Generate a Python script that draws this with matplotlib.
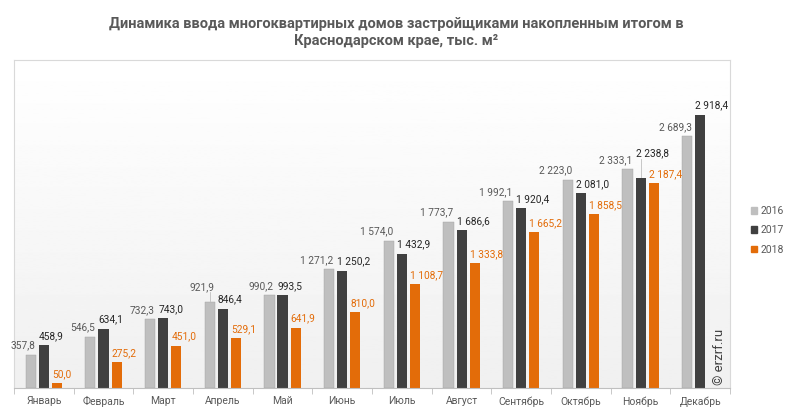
import matplotlib.pyplot as plt
import numpy as np

months = ['Январь', 'Февраль', 'Март', 'Апрель', 'Май', 'Июнь', 'Июль',
          'Август', 'Сентябрь', 'Октябрь', 'Ноябрь', 'Декабрь']
years = ['2016', '2017', '2018']
v2016 = [357.8, 546.5, 732.3, 921.9, 990.2, 1271.2, 1574.0, 1773.7, 1992.1, 2223.0, 2333.1, 2689.3]
v2017 = [458.9, 634.1, 743.0, 846.4, 993.5, 1250.2, 1432.9, 1686.6, 1920.4, 2081.0, 2238.8, 2918.4]
v2018 = [50.0, 275.2, 451.0, 529.1, 641.9, 810.0, 1108.7, 1333.8, 1665.2, 1858.5, 2187.4]

colors = ['#bfbfbf', '#404040', '#e36c09']
label_colors = ['#595959', '#262626', '#e36c09']

plt.rcParams['font.family'] = ['Roboto', 'DejaVu Sans']


def fmt(v):
    s = '{:,.1f}'.format(v)
    return s.replace(',', ' ').replace('.', ',')


fig = plt.figure(figsize=(7.93, 4.15), dpi=100)
ax = fig.add_axes([0.0177, 0.065, 0.903, 0.790])

ymax = 3500
x = np.arange(len(months))
ax.set_xlim(-0.5, len(months) - 0.5)
ax.set_ylim(0, ymax)

# gradient background
grad = np.linspace(1.0, 0.94, 256).reshape(-1, 1)
ax.imshow(grad, extent=[-0.5, len(months) - 0.5, 0, ymax], aspect='auto',
          cmap='gray', vmin=0, vmax=1, zorder=0, origin='upper')

# labels that Excel pushed up to avoid collisions (series, month) -> extra lift
lift = {(1, 10): 170, (0, 3): 60}

w = 0.17
step = 0.22
series = [v2016, v2017, v2018]
for i, vals in enumerate(series):
    xs = x[:len(vals)] + (i - 1) * step
    ax.bar(xs, vals, width=w, color=colors[i], zorder=2,
           edgecolor='#a0a0a0' if i == 0 else None, linewidth=0.3 if i == 0 else 0)
    for j, (xi, v) in enumerate(zip(xs, vals)):
        if i == 0:
            tx, ha = xi + w / 2 - 0.01, 'right'
        else:
            tx, ha = xi - w / 2 + 0.0, 'left'
        dy = lift.get((i, j), 0)
        ax.text(tx, v + 45 + dy, fmt(v), ha=ha, va='bottom', fontsize=7.3,
                color=label_colors[i], zorder=3)
        if dy:
            ax.plot([xi, xi], [v + 10, v + dy + 40], color='#bfbfbf', lw=0.6, zorder=2)

# frame
for s in ['left', 'top', 'right']:
    ax.spines[s].set_color('#d9d9d9')
ax.spines['bottom'].set_color('#bfbfbf')
ax.set_yticks([])
ax.set_xticks(x)
ax.set_xticklabels(months, fontsize=7.5, color='#595959')
ax.tick_params(axis='x', length=0, pad=6)
ax.set_xticks(np.arange(-0.5, len(months)), minor=True)
ax.tick_params(axis='x', which='minor', length=4, color='#bfbfbf')

ax.text(0.985, 0.01, '© erzrf.ru', transform=ax.transAxes, rotation=90,
        ha='center', va='bottom', fontsize=9.5, color='#404040')

handles = [plt.Rectangle((0, 0), 1, 1, color=c) for c in colors]
fig.legend(handles, years, loc='center left', bbox_to_anchor=(0.935, 0.445),
           frameon=False, fontsize=7.5, labelcolor='#595959',
           handlelength=0.6, handleheight=0.6, handletextpad=0.3, labelspacing=0.9)

fig.text(0.5, 0.96, 'Динамика ввода многоквартирных домов застройщиками накопленным итогом в\nКраснодарском крае, тыс. м²',
         ha='center', va='top', fontsize=10.5, fontweight='bold', color='#595959',
         family=['Liberation Sans Narrow', 'Roboto', 'DejaVu Sans'], linespacing=1.3)

fig.savefig('out.png', dpi=100)
